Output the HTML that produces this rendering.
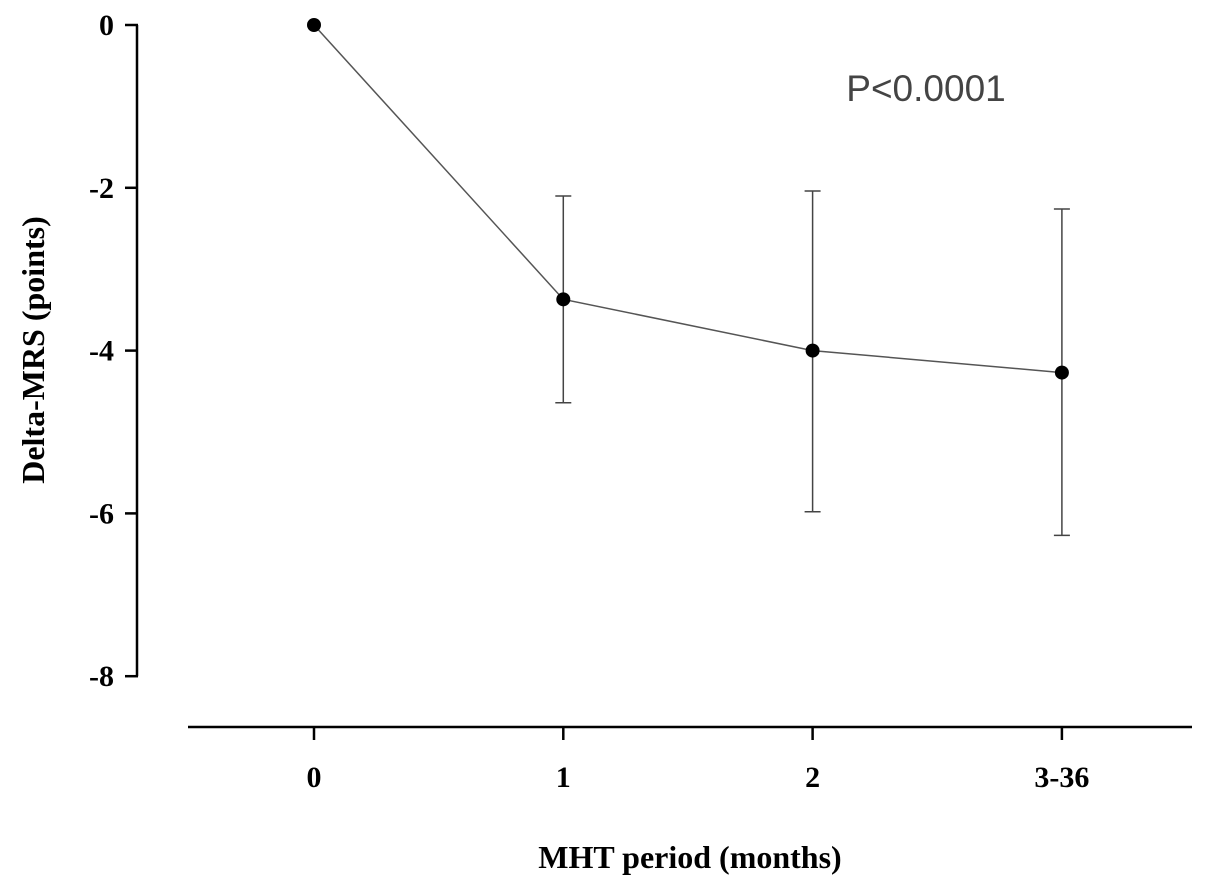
<!DOCTYPE html>
<html><head><meta charset="utf-8"><style>
body{margin:0;background:#fff;}
svg{display:block;}
text{font-family:"Liberation Serif",serif;}
</style></head><body>
<svg id="chart" width="1205" height="888">
<g id="g"></g>
</svg>
<script>
const categories=["0","1","2","3-36"];
const means=[0,-3.37,-4.0,-4.27];
const upper=[0,-2.10,-2.04,-2.26];
const lower=[0,-4.64,-5.98,-6.27];
const yTicks=[0,-2,-4,-6,-8];
const yLabels=["0","-2","-4","-6","-8"];

const ns="http://www.w3.org/2000/svg";
const g=document.getElementById('g');
function y(v){return 25+(-v)*81.4;}
function x(i){return 314+i*249.3;}
function mk(tag,attrs,parent){const e=document.createElementNS(ns,tag);for(const k in attrs)e.setAttribute(k,attrs[k]);(parent||g).appendChild(e);return e;}

let e=mk('line',{x1:137,y1:y(0),x2:137,y2:y(-8),stroke:'#000','stroke-width':2.5});


yTicks.forEach((t,i)=>{
  let tk=mk('line',{x1:125,y1:y(t),x2:138,y2:y(t),stroke:'#000','stroke-width':2.5});
  
  
  let tx=mk('text',{x:114,y:y(t)+10,'text-anchor':'end','font-size':30,'font-weight':'bold'});
  tx.textContent=yLabels[i];
  
  
});
e=mk('line',{x1:188,y1:727,x2:1192,y2:727,stroke:'#000','stroke-width':2.5});


categories.forEach((c,i)=>{
  let tk=mk('line',{x1:x(i),y1:727,x2:x(i),y2:740,stroke:'#000','stroke-width':2.5});
  
  
  let tx=mk('text',{x:x(i),y:787,'text-anchor':'middle','font-size':30,'font-weight':'bold'});
  tx.textContent=c;
  
  
});
let pts=means.map((m,i)=>x(i)+','+y(m)).join(' ');
e=mk('polyline',{points:pts,fill:'none',stroke:'#555','stroke-width':1.5});


means.forEach((m,i)=>{
  if(upper[i]===lower[i])return;
  let b=mk('path',{d:`M${x(i)},${y(upper[i])}V${y(lower[i])}M${x(i)-8},${y(upper[i])}H${x(i)+8}M${x(i)-8},${y(lower[i])}H${x(i)+8}`,stroke:'#444','stroke-width':1.5,fill:'none'});
  
  
});
means.forEach((m,i)=>{
  let c=mk('circle',{cx:x(i),cy:y(m),r:7,fill:'#000'});
  
  
});
e=mk('text',{x:926,y:101,'text-anchor':'middle','font-size':37,fill:'#444','style':'font-family:"Liberation Sans",sans-serif'});
e.textContent='P<0.0001';


e=mk('text',{x:690,y:868,'text-anchor':'middle','font-size':32,'font-weight':'bold'});
e.textContent='MHT period (months)';


e=mk('text',{x:0,y:0,'text-anchor':'middle','font-size':32,'font-weight':'bold',transform:'translate(44,350) rotate(-90)'});
e.textContent='Delta-MRS (points)';


</script>
</body></html>
